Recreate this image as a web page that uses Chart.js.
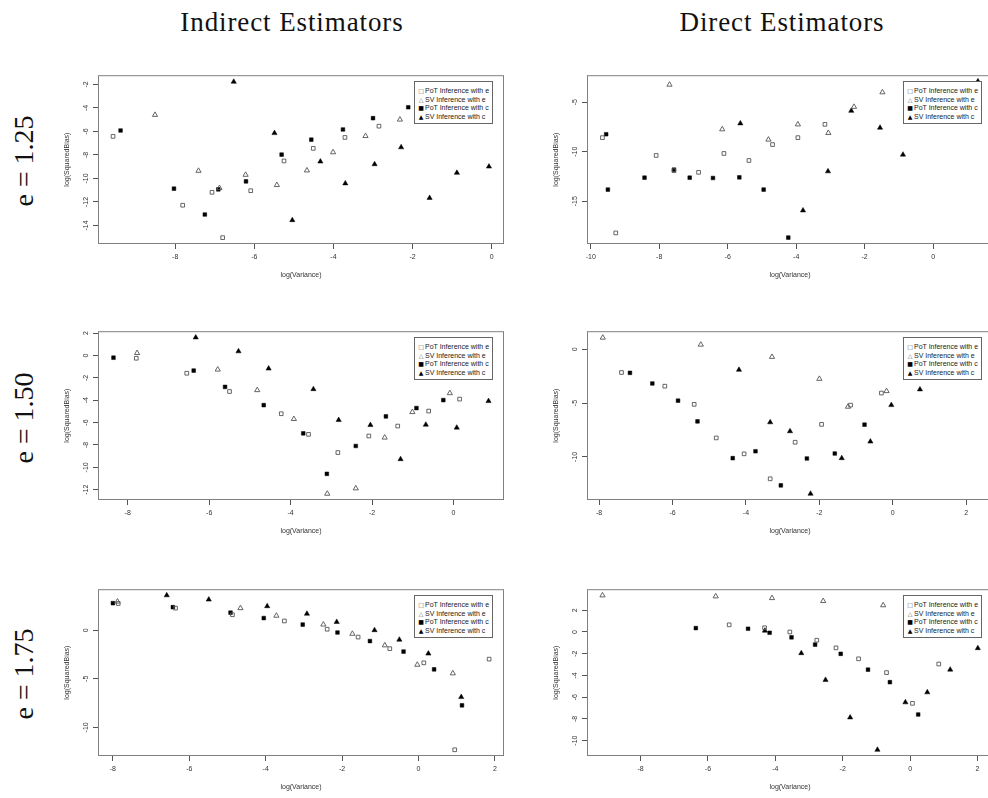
<!DOCTYPE html>
<html>
<head>
<meta charset="utf-8">
<script src="https://cdn.jsdelivr.net/npm/chart.js@4.4.1/dist/chart.umd.min.js"></script>
<style>
  html, body { margin: 0; padding: 0; background: #fff; overflow: hidden; }
  #fig { position: relative; width: 988px; height: 798px; overflow: hidden; background: #fff; }
  #fig canvas { position: absolute; }
  .coltitle { position: absolute; top: 9px; transform: translateX(-50%); white-space: nowrap;
    font-family: "Liberation Serif", "Times New Roman", serif; font-size: 27px; line-height: 27px;
    letter-spacing: 0.9px; color: #111; }
  .rowlabel { position: absolute; left: 24px; transform: translate(-50%, -50%) rotate(-90deg); white-space: nowrap;
    font-family: "Liberation Serif", "Times New Roman", serif; font-size: 28px; line-height: 28px; color: #111; }
  .legend { position: absolute; width: 77px; height: 41px; border: 1px solid #666; background: #fff;
    font-family: "Liberation Sans", Arial, sans-serif; font-size: 7px; color: #222; }
  .legend div { position: absolute; left: 0; height: 8px; line-height: 8px; white-space: nowrap; }
  .legend .sym { position: absolute; left: 3px; width: 6px; text-align: center; font-family: "DejaVu Sans", sans-serif; font-size: 6px; color: #444; }
  .legend .txt { position: absolute; left: 10px; }
</style>
</head>
<body>
<div id="fig"></div>
<script>
// Titles and legend text
const colTitles = ['Indirect Estimators', 'Direct Estimators'];
const rowLabels = ['e = 1.25', 'e = 1.50', 'e = 1.75'];
const seriesLabels = ['PoT Inference with e', 'SV Inference with e', 'PoT Inference with c', 'SV Inference with c'];
const seriesSymbols = ['\u25A1', '\u25B3', '\u25A0', '\u25B2'];
const xTitle = 'log(Variance)';
const yTitle = 'log(SquaredBias)';

// e = 1.25, indirect  [log(Variance), log(SquaredBias)]
const ind125PotE = [[-9.57,-6.42],[-7.81,-12.28],[-7.07,-11.18],[-6.80,-15.04],[-6.09,-11.04],[-5.25,-8.51],[-4.51,-7.44],[-3.71,-6.51],[-2.85,-5.55]];
const ind125SvE = [[-8.51,-4.59],[-7.41,-9.35],[-6.88,-10.82],[-6.22,-9.69],[-5.43,-10.56],[-4.67,-9.32],[-4.01,-7.77],[-3.19,-6.39],[-2.32,-4.99]];
const ind125PotC = [[-9.38,-5.92],[-8.03,-10.87],[-7.25,-13.07],[-6.91,-10.93],[-6.21,-10.25],[-5.31,-7.97],[-4.56,-6.70],[-3.76,-5.83],[-3.00,-4.87],[-2.11,-3.94]];
const ind125SvC = [[-6.52,-1.77],[-5.49,-6.14],[-5.04,-13.55],[-4.33,-8.56],[-3.70,-10.42],[-2.96,-8.79],[-2.29,-7.35],[-1.57,-11.66],[-0.88,-9.52],[-0.07,-8.99]];

// e = 1.25, direct
const dir125PotE = [[-9.66,-8.58],[-9.27,-18.21],[-8.09,-10.38],[-7.57,-11.92],[-6.85,-12.09],[-6.11,-10.18],[-5.38,-10.89],[-4.69,-9.28],[-3.95,-8.58],[-3.16,-7.24]];
const dir125SvE = [[-7.70,-3.23],[-6.16,-7.74],[-4.81,-8.78],[-3.95,-7.24],[-3.06,-8.11],[-2.31,-5.47],[-1.48,-4.00]];
const dir125PotC = [[-9.55,-8.24],[-9.50,-13.83],[-8.43,-12.63],[-7.57,-11.82],[-7.11,-12.63],[-6.43,-12.66],[-5.66,-12.59],[-4.95,-13.83],[-4.23,-18.68]];
const dir125SvC = [[-5.63,-7.14],[-3.80,-15.94],[-3.07,-11.99],[-2.39,-5.87],[-1.55,-7.58],[-0.88,-10.30],[1.31,-2.89]];

// e = 1.50, indirect
const ind150PotE = [[-7.79,-0.25],[-6.55,-1.59],[-5.50,-3.22],[-4.23,-5.21],[-3.56,-7.05],[-2.84,-8.68],[-2.08,-7.20],[-1.37,-6.31],[-0.61,-4.97],[0.15,-3.90]];
const ind150SvE = [[-7.77,0.22],[-5.79,-1.26],[-4.82,-3.10],[-3.92,-5.68],[-3.10,-12.36],[-2.40,-11.88],[-1.69,-7.34],[-1.01,-5.06],[-0.09,-3.37]];
const ind150PotC = [[-8.35,-0.20],[-6.38,-1.35],[-5.61,-2.81],[-4.66,-4.44],[-3.69,-6.96],[-3.11,-10.58],[-2.40,-8.09],[-1.66,-5.45],[-0.91,-4.70],[-0.25,-3.99]];
const ind150SvC = [[-6.33,1.61],[-5.28,0.37],[-4.54,-1.17],[-3.44,-3.01],[-2.82,-5.77],[-2.04,-6.22],[-1.30,-9.27],[-0.68,-6.19],[0.08,-6.45],[0.86,-4.08]];

// e = 1.50, direct
const dir150PotE = [[-7.39,-2.16],[-6.21,-3.43],[-5.41,-5.12],[-4.81,-8.24],[-4.05,-9.72],[-3.34,-12.04],[-2.66,-8.64],[-1.94,-6.98],[-1.15,-5.19],[-0.31,-4.07]];
const dir150SvE = [[-7.90,1.08],[-5.23,0.43],[-3.29,-0.71],[-2.00,-2.75],[-1.22,-5.34],[-0.17,-3.89]];
const dir150PotC = [[-7.16,-2.19],[-6.55,-3.18],[-5.85,-4.78],[-5.32,-6.70],[-4.36,-10.12],[-3.74,-9.48],[-3.05,-12.65],[-2.34,-10.15],[-1.58,-9.69],[-0.77,-7.01]];
const dir150SvC = [[-4.19,-1.91],[-3.34,-6.79],[-2.80,-7.62],[-2.24,-13.43],[-1.39,-10.12],[-0.61,-8.58],[-0.04,-5.19],[0.74,-3.73]];

// e = 1.75, indirect
const ind175PotE = [[-7.86,2.75],[-6.36,2.27],[-4.87,1.59],[-3.51,0.95],[-2.39,0.10],[-1.58,-0.71],[-0.75,-1.90],[0.14,-3.36],[0.95,-12.31],[1.85,-2.98]];
const ind175SvE = [[-7.88,2.95],[-4.66,2.27],[-3.72,1.49],[-2.49,0.58],[-1.73,-0.37],[-0.88,-1.56],[-0.03,-3.56],[0.90,-4.44]];
const ind175PotC = [[-8.00,2.78],[-6.43,2.37],[-4.92,1.80],[-4.05,1.25],[-3.03,0.58],[-2.12,-0.24],[-1.27,-1.12],[-0.39,-2.20],[0.41,-4.03],[1.14,-7.73]];
const ind175SvC = [[-6.59,3.59],[-5.49,3.15],[-3.96,2.47],[-2.92,1.69],[-2.14,0.85],[-1.15,0.00],[-0.50,-0.98],[0.26,-2.41],[1.12,-6.88]];

// e = 1.75, direct
const dir175PotE = [[-5.37,0.66],[-4.32,0.39],[-3.57,0.00],[-2.77,-0.76],[-2.20,-1.46],[-1.53,-2.47],[-0.70,-3.74],[0.07,-6.57],[0.85,-2.95]];
const dir175SvE = [[-9.13,3.37],[-5.77,3.28],[-4.10,3.12],[-2.58,2.85],[-0.80,2.46]];
const dir175PotC = [[-6.36,0.36],[-4.81,0.30],[-4.17,-0.07],[-3.52,-0.49],[-2.82,-1.16],[-2.06,-2.01],[-1.25,-3.47],[-0.60,-4.62],[0.24,-7.60]];
const dir175SvC = [[-4.31,0.12],[-3.23,-1.95],[-2.51,-4.41],[-1.78,-7.87],[-0.97,-10.85],[-0.14,-6.48],[0.51,-5.56],[1.19,-3.47],[2.01,-1.49]];

// axis limits and tick values
const ind125X = [-9.95, 0.31], ind125Y = [-15.58, -1.21];
const dir125X = [-10.11, 1.75], dir125Y = [-19.33, -2.27];
const ind150X = [-8.73, 1.24], ind150Y = [-12.92, 2.17];
const dir150X = [-8.33, 2.73], dir150Y = [-14.01, 1.68];
const ind175X = [-8.39, 2.24], ind175Y = [-12.95, 4.22];
const dir175X = [-9.59, 2.46], dir175Y = [-11.42, 3.94];

const ind125XTicks = [-8, -6, -4, -2, 0], ind125YTicks = [-14, -12, -10, -8, -6, -4, -2];
const dir125XTicks = [-10, -8, -6, -4, -2, 0], dir125YTicks = [-15, -10, -5];
const ind150XTicks = [-8, -6, -4, -2, 0], ind150YTicks = [-12, -10, -8, -6, -4, -2, 0, 2];
const dir150XTicks = [-8, -6, -4, -2, 0, 2], dir150YTicks = [-10, -5, 0];
const ind175XTicks = [-8, -6, -4, -2, 0, 2], ind175YTicks = [-10, -5, 0];
const dir175XTicks = [-8, -6, -4, -2, 0, 2], dir175YTicks = [-10, -8, -6, -4, -2, 0, 2];

const SANS = '"Liberation Sans", Arial, sans-serif';
const AXIS_W = 45;   // room for the y axis
const AXIS_H = 45;   // room for the x axis
const BOX_W = 406;

// point look for each series (R pch 0, 2, 15, 17)
const seriesStyle = [
  { pointStyle: 'rect', pointRadius: 2.6, pointBackgroundColor: 'rgba(0,0,0,0)', pointBorderColor: '#555', pointBorderWidth: 0.9 },
  { pointStyle: 'triangle', pointRadius: 3, pointBackgroundColor: 'rgba(0,0,0,0)', pointBorderColor: '#555', pointBorderWidth: 0.9 },
  { pointStyle: 'rect', pointRadius: 2.6, pointBackgroundColor: '#000', pointBorderColor: '#000', pointBorderWidth: 0.5 },
  { pointStyle: 'triangle', pointRadius: 3, pointBackgroundColor: '#000', pointBorderColor: '#000', pointBorderWidth: 0.5 }
];

const panels = [
  { left: 98, top: 74, h: 170, x: ind125X, y: ind125Y, xTicks: ind125XTicks, yTicks: ind125YTicks, series: [ind125PotE, ind125SvE, ind125PotC, ind125SvC] },
  { left: 587, top: 74, h: 170, x: dir125X, y: dir125Y, xTicks: dir125XTicks, yTicks: dir125YTicks, series: [dir125PotE, dir125SvE, dir125PotC, dir125SvC] },
  { left: 98, top: 330, h: 170, x: ind150X, y: ind150Y, xTicks: ind150XTicks, yTicks: ind150YTicks, series: [ind150PotE, ind150SvE, ind150PotC, ind150SvC] },
  { left: 587, top: 330, h: 170, x: dir150X, y: dir150Y, xTicks: dir150XTicks, yTicks: dir150YTicks, series: [dir150PotE, dir150SvE, dir150PotC, dir150SvC] },
  { left: 98, top: 588, h: 168, x: ind175X, y: ind175Y, xTicks: ind175XTicks, yTicks: ind175YTicks, series: [ind175PotE, ind175SvE, ind175PotC, ind175SvC] },
  { left: 587, top: 588, h: 168, x: dir175X, y: dir175Y, xTicks: dir175XTicks, yTicks: dir175YTicks, series: [dir175PotE, dir175SvE, dir175PotC, dir175SvC] }
];

// draws the full box around the plot region, like R's bty="o"
const boxPlugin = {
  id: 'plotBox',
  afterDraw(chart) {
    const { ctx, chartArea: a } = chart;
    ctx.save();
    ctx.strokeStyle = '#808080';
    ctx.lineWidth = 1;
    ctx.strokeRect(a.left + 0.5, a.top + 0.5, a.right - a.left - 1, a.bottom - a.top - 1);
    ctx.restore();
  }
};

const fig = document.getElementById('fig');

colTitles.forEach((t, i) => {
  const d = document.createElement('div');
  d.className = 'coltitle';
  d.style.left = (i === 0 ? 292 : 782) + 'px';
  d.textContent = t;
  fig.appendChild(d);
});

rowLabels.forEach((t, i) => {
  const d = document.createElement('div');
  d.className = 'rowlabel';
  d.style.top = [161, 418, 674][i] + 'px';
  d.textContent = t;
  fig.appendChild(d);
});

function axisTicks(values) {
  return scale => { scale.ticks = values.map(v => ({ value: v })); };
}

function makePanel(p) {
  const canvas = document.createElement('canvas');
  canvas.width = AXIS_W + BOX_W + 5;
  canvas.height = 5 + p.h + AXIS_H;
  canvas.style.left = (p.left - AXIS_W) + 'px';
  canvas.style.top = (p.top - 5) + 'px';
  fig.appendChild(canvas);

  const datasets = p.series.map((pts, i) => Object.assign({
    label: seriesLabels[i],
    data: pts.map(([x, y]) => ({ x, y })),
    showLine: false
  }, seriesStyle[i]));

  const tickFont = { family: SANS, size: 7 };

  new Chart(canvas, {
    type: 'scatter',
    data: { datasets },
    options: {
      responsive: false,
      animation: false,
      events: [],
      layout: { padding: { left: 0, top: 5, right: 5, bottom: 0 } },
      plugins: { legend: { display: false }, tooltip: { enabled: false } },
      scales: {
        x: {
          type: 'linear', min: p.x[0], max: p.x[1],
          afterBuildTicks: axisTicks(p.xTicks),
          afterFit: s => { s.height = AXIS_H; },
          border: { display: false },
          grid: { drawOnChartArea: false, drawTicks: true, tickLength: 5, tickColor: '#555', tickWidth: 1 },
          ticks: { font: tickFont, color: '#333', padding: 4, minRotation: 0, maxRotation: 0, autoSkip: false },
          title: { display: true, text: xTitle, font: tickFont, color: '#333', padding: { top: 0, bottom: 10 } }
        },
        y: {
          type: 'linear', min: p.y[0], max: p.y[1],
          afterBuildTicks: axisTicks(p.yTicks),
          afterFit: s => { s.width = AXIS_W; },
          border: { display: false },
          grid: { drawOnChartArea: false, drawTicks: true, tickLength: 5, tickColor: '#555', tickWidth: 1 },
          ticks: { font: tickFont, color: '#333', padding: 2, minRotation: 90, maxRotation: 90, crossAlign: 'center', autoSkip: false },
          title: { display: true, text: yTitle, font: tickFont, color: '#333', padding: { top: 10, bottom: 0 } }
        }
      }
    },
    plugins: [boxPlugin]
  });

  // legend box in the top right corner of the plot
  const lg = document.createElement('div');
  lg.className = 'legend';
  lg.style.left = (p.left + 316) + 'px';
  lg.style.top = (p.top + 7) + 'px';
  seriesLabels.forEach((lab, i) => {
    const row = document.createElement('div');
    row.style.top = (5 + i * 8.5) + 'px';
    row.innerHTML = `<span class="sym" style="color:${i < 2 ? '#555' : '#000'}">${seriesSymbols[i]}</span><span class="txt">${lab}</span>`;
    lg.appendChild(row);
  });
  fig.appendChild(lg);
}

panels.forEach(makePanel);
</script>
</body>
</html>
